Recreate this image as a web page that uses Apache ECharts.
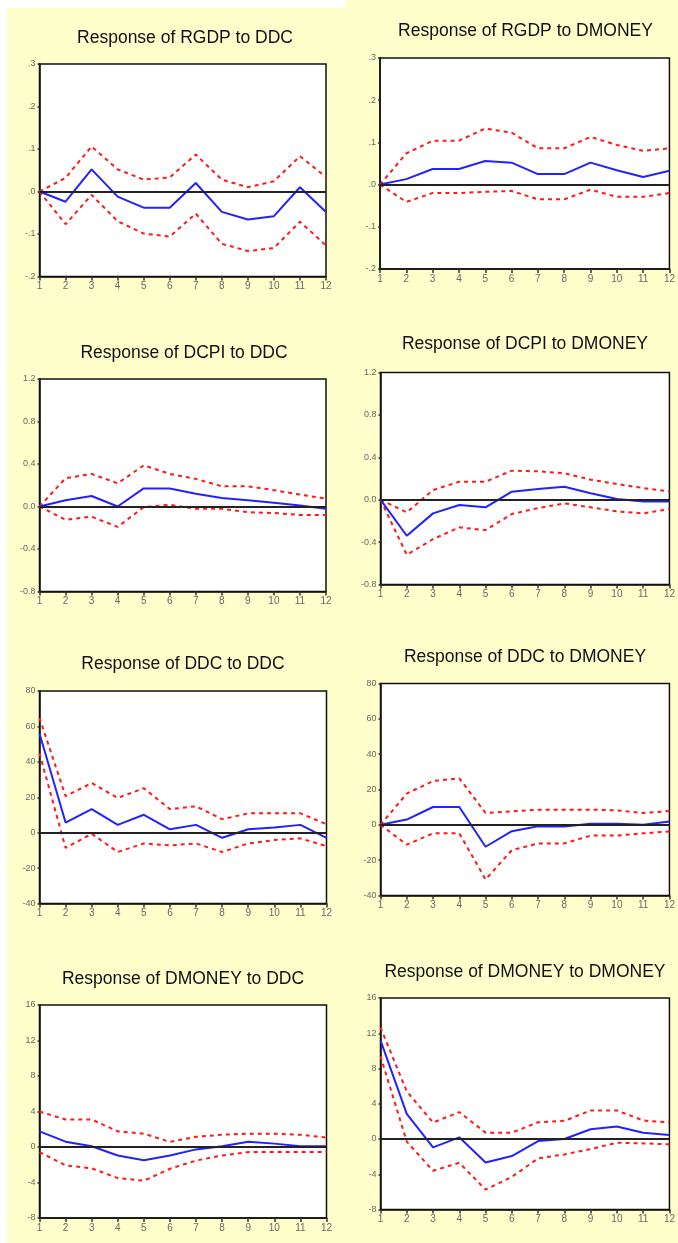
<!DOCTYPE html>
<html>
<head>
<meta charset="utf-8">
<script src="https://cdn.jsdelivr.net/npm/echarts@6/dist/echarts.min.js"></script>
<style>
  html, body { margin: 0; padding: 0; background: #ffffff; }
  #chart { width: 678px; height: 1243px; }
</style>
</head>
<body>
<div id="chart"></div>
<script>
// Impulse-response horizons
const steps = ['1', '2', '3', '4', '5', '6', '7', '8', '9', '10', '11', '12'];

// Response of RGDP to DDC (response, upper and lower +/- 2 S.E. bands)
const rgdpDdc   = [0.000, -0.024, 0.052, -0.012, -0.038, -0.038, 0.020, -0.048, -0.066, -0.058, 0.010, -0.048];
const rgdpDdcHi = [0.000, 0.032, 0.106, 0.052, 0.028, 0.033, 0.087, 0.028, 0.010, 0.024, 0.083, 0.034];
const rgdpDdcLo = [0.000, -0.077, -0.008, -0.070, -0.099, -0.106, -0.052, -0.123, -0.140, -0.133, -0.071, -0.127];

// Response of RGDP to DMONEY
const rgdpMoney   = [0.000, 0.013, 0.037, 0.037, 0.056, 0.052, 0.025, 0.025, 0.052, 0.034, 0.018, 0.033];
const rgdpMoneyHi = [0.000, 0.074, 0.104, 0.104, 0.133, 0.123, 0.086, 0.086, 0.113, 0.094, 0.080, 0.086];
const rgdpMoneyLo = [0.000, -0.041, -0.020, -0.020, -0.017, -0.015, -0.035, -0.035, -0.012, -0.029, -0.029, -0.020];

// Response of DCPI to DDC
const dcpiDdc   = [0.000, 0.058, 0.099, 0.000, 0.170, 0.170, 0.120, 0.080, 0.058, 0.035, 0.010, -0.022];
const dcpiDdcHi = [0.000, 0.266, 0.307, 0.218, 0.387, 0.307, 0.260, 0.190, 0.190, 0.154, 0.112, 0.074];
const dcpiDdcLo = [0.000, -0.125, -0.096, -0.192, -0.006, 0.016, -0.022, -0.022, -0.054, -0.061, -0.080, -0.080];

// Response of DCPI to DMONEY
const dcpiMoney   = [0.000, -0.340, -0.129, -0.050, -0.072, 0.076, 0.100, 0.123, 0.060, 0.006, -0.016, -0.016];
const dcpiMoneyHi = [0.000, -0.120, 0.091, 0.170, 0.170, 0.274, 0.268, 0.249, 0.189, 0.148, 0.110, 0.079];
const dcpiMoneyLo = [0.000, -0.520, -0.372, -0.261, -0.287, -0.135, -0.079, -0.035, -0.072, -0.110, -0.129, -0.088];

// Response of DDC to DDC
const ddcDdc   = [56.0, 5.7, 13.3, 4.4, 10.1, 1.9, 4.4, -2.9, 1.9, 2.9, 4.4, -2.9];
const ddcDdcHi = [64.8, 20.6, 28.0, 19.6, 25.1, 13.3, 14.9, 7.6, 10.9, 10.9, 10.9, 4.8];
const ddcDdcLo = [44.8, -8.6, -0.6, -10.9, -6.1, -7.2, -6.1, -10.9, -6.1, -4.2, -3.2, -7.6];

// Response of DDC to DMONEY
const ddcMoney   = [0.0, 3.0, 10.1, 10.1, -12.4, -3.6, -0.8, -1.0, 0.6, 0.6, 0.0, 1.9];
const ddcMoneyHi = [0.0, 17.7, 24.8, 26.3, 6.7, 7.6, 8.6, 8.6, 8.6, 8.2, 6.7, 7.8];
const ddcMoneyLo = [0.0, -11.2, -4.8, -4.8, -30.9, -14.3, -10.5, -10.5, -6.1, -6.1, -4.8, -3.8];

// Response of DMONEY to DDC
const moneyDdc   = [1.76, 0.60, 0.08, -0.96, -1.50, -0.96, -0.27, 0.08, 0.60, 0.38, 0.08, 0.08];
const moneyDdcHi = [4.00, 3.10, 3.10, 1.76, 1.50, 0.57, 1.15, 1.38, 1.50, 1.50, 1.38, 1.07];
const moneyDdcLo = [-0.57, -2.07, -2.40, -3.50, -3.80, -2.45, -1.53, -0.96, -0.57, -0.57, -0.57, -0.57];

// Response of DMONEY to DMONEY
const moneyMoney   = [11.2, 2.86, -0.95, 0.19, -2.67, -1.94, -0.23, 0.00, 1.10, 1.41, 0.72, 0.46];
const moneyMoneyHi = [12.65, 5.40, 1.87, 3.05, 0.72, 0.72, 1.90, 2.06, 3.24, 3.24, 2.10, 1.87];
const moneyMoneyLo = [9.40, -0.30, -3.60, -2.70, -5.75, -4.30, -2.20, -1.75, -1.14, -0.42, -0.50, -0.60];

// Panel titles
const titles = [
  'Response of RGDP to DDC', 'Response of RGDP to DMONEY',
  'Response of DCPI to DDC', 'Response of DCPI to DMONEY',
  'Response of DDC to DDC', 'Response of DDC to DMONEY',
  'Response of DMONEY to DDC', 'Response of DMONEY to DMONEY'
];

const panelData = [
  [rgdpDdc, rgdpDdcHi, rgdpDdcLo], [rgdpMoney, rgdpMoneyHi, rgdpMoneyLo],
  [dcpiDdc, dcpiDdcHi, dcpiDdcLo], [dcpiMoney, dcpiMoneyHi, dcpiMoneyLo],
  [ddcDdc, ddcDdcHi, ddcDdcLo], [ddcMoney, ddcMoneyHi, ddcMoneyLo],
  [moneyDdc, moneyDdcHi, moneyDdcLo], [moneyMoney, moneyMoneyHi, moneyMoneyLo]
];

// Value-axis ranges per row
const fmtShort = v => { const s = (Math.round(v * 10) / 10).toFixed(1); return s.replace('0.', '.'); };
const fmtOne = v => (Math.round(v * 10) / 10).toFixed(1);
const fmtInt = v => String(Math.round(v));
const yRanges = [
  { min: -0.2, max: 0.3, interval: 0.1, fmt: fmtShort },
  { min: -0.2, max: 0.3, interval: 0.1, fmt: fmtShort },
  { min: -0.8, max: 1.2, interval: 0.4, fmt: fmtOne },
  { min: -0.8, max: 1.2, interval: 0.4, fmt: fmtOne },
  { min: -40, max: 80, interval: 20, fmt: fmtInt },
  { min: -40, max: 80, interval: 20, fmt: fmtInt },
  { min: -8, max: 16, interval: 4, fmt: fmtInt },
  { min: -8, max: 16, interval: 4, fmt: fmtInt }
];

// Plot boxes [left, top, width, height] and title anchors [centerX, top]
const boxes = [
  [39.5, 64, 286.5, 212.5], [380, 58, 290, 211],
  [39.5, 379, 286.5, 212.5], [380.5, 372.5, 290, 212],
  [39.5, 691, 287, 212.5], [380.5, 683.5, 290, 212],
  [39.5, 1005, 287, 213], [380.5, 998, 289.5, 211.5]
];
const titlePos = [
  [185, 29.5], [525.5, 22], [184, 344], [525, 335.5],
  [183, 655.5], [525, 648], [183, 970.5], [525, 963]
];

const labelFont = 'Liberation Sans, Arial, sans-serif';
const grids = [], xAxes = [], yAxes = [], series = [], titleOpts = [];
boxes.forEach((b, i) => {
  grids.push({
    left: b[0], top: b[1], width: b[2], height: b[3],
    show: true, backgroundColor: '#ffffff', borderColor: '#111111', borderWidth: 1.5
  });
  xAxes.push({
    type: 'category', gridIndex: i, data: steps, boundaryGap: false,
    axisLine: { onZero: false, lineStyle: { color: '#111111', width: 1.5 } },
    axisTick: { show: true, length: 4, lineStyle: { color: '#333333', width: 1.5 } },
    axisLabel: { color: '#666666', fontSize: 10, fontFamily: labelFont, margin: 5, interval: 0 },
    splitLine: { show: false }
  });
  const r = yRanges[i];
  yAxes.push({
    type: 'value', gridIndex: i, min: r.min, max: r.max, interval: r.interval,
    axisLine: { show: true, onZero: false, lineStyle: { color: '#111111', width: 1.5 } },
    axisTick: { show: true, length: 2, lineStyle: { color: '#333333', width: 1.5 } },
    axisLabel: { color: '#666666', fontSize: 9, fontFamily: labelFont, margin: 4, formatter: r.fmt },
    splitLine: { show: false }
  });
  const [mid, hi, lo] = panelData[i];
  series.push({
    type: 'line', xAxisIndex: i, yAxisIndex: i, data: hi, symbol: 'none',
    lineStyle: { color: '#ff1a1a', width: 2, type: [4, 4] }, silent: true, z: 2
  });
  series.push({
    type: 'line', xAxisIndex: i, yAxisIndex: i, data: lo, symbol: 'none',
    lineStyle: { color: '#ff1a1a', width: 2, type: [4, 4] }, silent: true, z: 2
  });
  series.push({
    type: 'line', xAxisIndex: i, yAxisIndex: i, data: mid, symbol: 'none',
    lineStyle: { color: '#2222ff', width: 2 }, silent: true, z: 3,
    markLine: {
      silent: true, symbol: 'none', label: { show: false },
      lineStyle: { color: '#222222', width: 2, type: 'solid' },
      data: [{ yAxis: 0 }], z: 4
    }
  });
  titleOpts.push({
    text: titles[i], left: titlePos[i][0], top: titlePos[i][1], textAlign: 'center', padding: 0,
    textStyle: { fontSize: 17.5, fontWeight: 'normal', color: '#111111', fontFamily: labelFont }
  });
});

const chart = echarts.init(document.getElementById('chart'), null, { renderer: 'canvas' });
chart.setOption({
  backgroundColor: '#ffffcc',
  animation: false,
  title: titleOpts,
  grid: grids,
  xAxis: xAxes,
  yAxis: yAxes,
  series: series,
  graphic: [
    { type: 'rect', left: 0, top: 0, shape: { width: 7, height: 1243 }, style: { fill: '#ffffff' }, silent: true },
    { type: 'rect', left: 0, top: 0, shape: { width: 345, height: 8 }, style: { fill: '#ffffff' }, silent: true }
  ]
});
</script>
</body>
</html>
